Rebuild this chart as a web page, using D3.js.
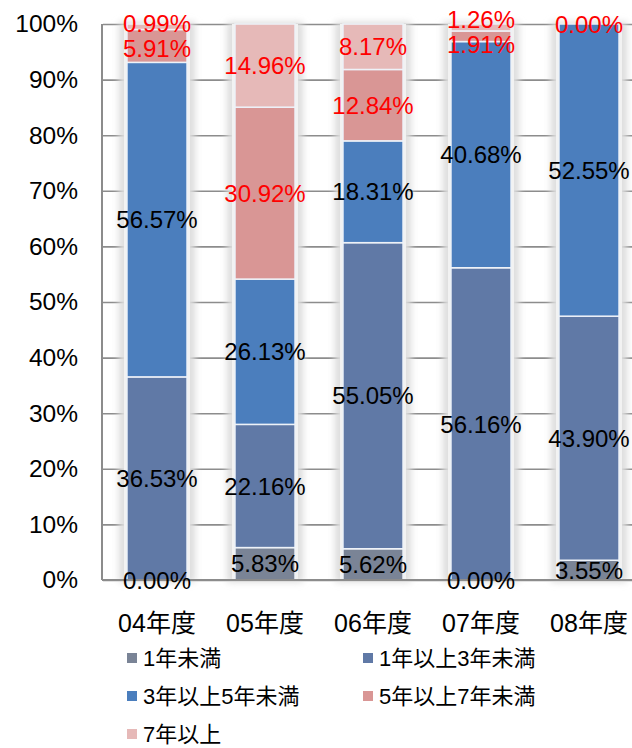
<!DOCTYPE html>
<html>
<head>
<meta charset="utf-8">
<script src="https://cdn.jsdelivr.net/npm/d3@7"></script>
<style>
  html, body { margin: 0; padding: 0; background: #fff; }
  svg { display: block; }
  text { font-family: "Liberation Sans", Arial, "Noto Sans CJK JP", sans-serif; }
</style>
</head>
<body>
<svg id="chart" width="632" height="748"></svg>
<script>
// Tenure breakdown per fiscal year (percent of total)
const categories = ["04年度", "05年度", "06年度", "07年度", "08年度"];
const seriesNames = ["1年未満", "1年以上3年未満", "3年以上5年未満", "5年以上7年未満", "7年以上"];
const under1 = [0.00, 5.83, 5.62, 0.00, 3.55];
const from1to3 = [36.53, 22.16, 55.05, 56.16, 43.90];
const from3to5 = [56.57, 26.13, 18.31, 40.68, 52.55];
const from5to7 = [5.91, 30.92, 12.84, 1.91, 0.00];
const over7 = [0.99, 14.96, 8.17, 1.26, null];
const yTickValues = [0, 10, 20, 30, 40, 50, 60, 70, 80, 90, 100];

const seriesValues = [under1, from1to3, from3to5, from5to7, over7];
const colors = ["#7a8496", "#6079a6", "#4b7ebd", "#d99695", "#e6b9b8"];
const labelColors = ["#000", "#000", "#000", "#ff0000", "#ff0000"];

const svg = d3.select("#chart");
const plot = { left: 103, right: 643, top: 24, bottom: 580 };

const x = d3.scaleBand()
  .domain(categories)
  .range([plot.left, plot.right])
  .paddingInner(0.444)
  .paddingOuter(0.222);

const y = d3.scaleLinear().domain([0, 100]).range([plot.bottom, plot.top]);

// rows for the stack layout
const rows = categories.map((c, i) => {
  const r = { category: c };
  seriesNames.forEach((s, k) => { r[s] = seriesValues[k][i] == null ? 0 : seriesValues[k][i]; });
  return r;
});
const stacked = d3.stack().keys(seriesNames)(rows);

const defs = svg.append("defs");
defs.append("filter").attr("id", "halo")
  .attr("x", "-50%").attr("y", "-10%").attr("width", "200%").attr("height", "120%")
  .append("feGaussianBlur").attr("stdDeviation", 3.5);

// horizontal gridlines
svg.append("g")
  .attr("transform", `translate(${plot.left},0)`)
  .call(d3.axisLeft(y).tickValues(yTickValues).tickSize(-(plot.right - plot.left)).tickFormat(""))
  .call(g => g.select(".domain").remove())
  .call(g => g.selectAll("line").attr("stroke", "#8c8c8c").attr("stroke-width", 1.6));

// soft halo behind each bar
svg.append("g").selectAll("rect")
  .data(categories)
  .join("rect")
  .attr("x", d => x(d) - 8)
  .attr("width", x.bandwidth() + 16)
  .attr("y", y(100) - 2)
  .attr("height", y(0) - y(100) + 4)
  .attr("fill", "#dcdcdc")
  .attr("filter", "url(#halo)");
svg.append("g").selectAll("rect")
  .data(categories)
  .join("rect")
  .attr("x", d => x(d) - 3)
  .attr("width", x.bandwidth() + 6)
  .attr("y", y(100))
  .attr("height", y(0) - y(100))
  .attr("fill", "#f2f2f2");

// stacked segments
svg.append("g").selectAll("g")
  .data(stacked)
  .join("g")
  .attr("fill", (d, i) => colors[i])
  .selectAll("rect")
  .data(d => d)
  .join("rect")
  .attr("x", d => x(d.data.category))
  .attr("width", x.bandwidth())
  .attr("y", d => y(d[1]))
  .attr("height", d => Math.max(0, y(d[0]) - y(d[1])))
  .attr("stroke", "#eef2f8")
  .attr("stroke-width", 1.5);

// axes lines
svg.append("line")
  .attr("x1", plot.left - 1).attr("x2", plot.left - 1)
  .attr("y1", y(100)).attr("y2", y(0))
  .attr("stroke", "#8c8c8c").attr("stroke-width", 2);
svg.append("line")
  .attr("x1", plot.left - 1).attr("x2", plot.right)
  .attr("y1", y(0)).attr("y2", y(0))
  .attr("stroke", "#8c8c8c").attr("stroke-width", 2);

// y tick labels
svg.append("g")
  .attr("transform", `translate(${plot.left},0)`)
  .call(d3.axisLeft(y).tickValues(yTickValues).tickSize(0).tickPadding(25).tickFormat(d => d + "%"))
  .call(g => g.select(".domain").remove())
  .call(g => g.selectAll("text")
    .attr("fill", "#000")
    .style("font-size", "24.5px")
    .style("font-family", "'Liberation Sans', Arial, sans-serif"));

// category labels
svg.append("g")
  .attr("transform", `translate(0,${plot.bottom})`)
  .call(d3.axisBottom(x).tickSize(0).tickPadding(0))
  .call(g => g.select(".domain").remove())
  .call(g => g.selectAll("text")
    .attr("y", 0)
    .attr("dy", 52)
    .attr("fill", "#000")
    .style("font-size", "25px")
    .style("font-family", "'Liberation Sans', Arial, 'Noto Sans CJK JP', sans-serif"));

// value labels; labels of thin neighbouring segments are spread apart
const labelGap = 25;
const labelG = svg.append("g");
categories.forEach((c, i) => {
  const items = [];
  stacked.forEach((layer, k) => {
    const v = seriesValues[k][i];
    if (v == null) return;
    const seg = layer[i];
    items.push({ k, v, y: y((seg[0] + seg[1]) / 2) });
  });
  for (let j = 1; j < items.length; j++) {
    const lower = items[j - 1], upper = items[j];
    const diff = lower.y - upper.y;
    if (diff < labelGap) {
      const shift = labelGap - diff;
      const room = j >= 2 ? Math.max(0, (items[j - 2].y - lower.y) - labelGap) : shift / 2;
      const down = Math.min(shift / 2, room);
      lower.y += down;
      upper.y -= shift - down;
    }
  }
  items.forEach(it => {
    labelG.append("text")
      .attr("x", x(c) + x.bandwidth() / 2)
      .attr("y", it.y)
      .attr("dy", "0.36em")
      .attr("text-anchor", "middle")
      .attr("fill", labelColors[it.k])
      .style("font-size", "24px")
      .text(d3.format(".2f")(it.v) + "%");
  });
});

// legend
const legendPos = [
  { x: 127, y: 658 }, { x: 363, y: 658 },
  { x: 127, y: 696 }, { x: 363, y: 696 },
  { x: 127, y: 734 }
];
const legend = svg.append("g").selectAll("g")
  .data(seriesNames)
  .join("g")
  .attr("transform", (d, i) => `translate(${legendPos[i].x},${legendPos[i].y})`);
legend.append("rect")
  .attr("x", 0).attr("y", -5).attr("width", 10).attr("height", 10)
  .attr("fill", (d, i) => colors[i]);
legend.append("text")
  .attr("x", 16).attr("dy", "0.36em")
  .attr("fill", "#000")
  .style("font-size", "22px")
  .text(d => d);
</script>
</body>
</html>
